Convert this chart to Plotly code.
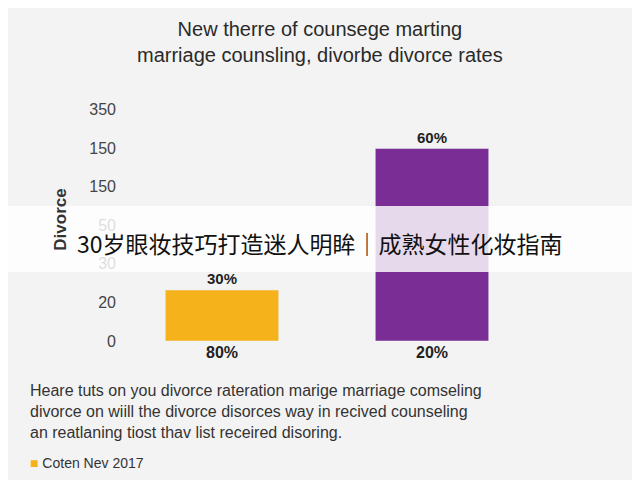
import plotly.graph_objects as go

categories = ["80%", "20%"]
values = [1.32, 4.99]
bar_labels = ["<b>30%</b>", "<b>60%</b>"]
colors = ["#f5b21a", "#7b2d96"]
tick_vals = [0, 1, 2, 3, 4, 5, 6]
tick_text = ["0", "20", "30", "50", "150", "150", "350"]

W, H = 640, 480
OFF = 8  # page body margin shifts the figure
ml, mr, mt, mb = 117 - OFF, 103 + OFF, 98 - OFF, 139 + OFF

fig = go.Figure()
fig.add_trace(go.Bar(x=categories, y=values, marker_color=colors,
                     text=bar_labels, textposition="outside",
                     textfont=dict(size=15, color="#222", family="Liberation Sans"),
                     cliponaxis=False))

fig.update_layout(
    width=W, height=H,
    margin=dict(l=ml, r=mr, t=mt, b=mb),
    paper_bgcolor="#f3f3f3", plot_bgcolor="#f3f3f3",
    bargap=0.46, showlegend=False,
    font=dict(family="Liberation Sans", color="#333"),
    xaxis=dict(tickfont=dict(size=16, color="#222"), showline=False, ticks="",
               tickvals=categories, ticktext=["<b>80%</b>", "<b>20%</b>"]),
    yaxis=dict(range=[0, 6.3], tickvals=tick_vals, ticktext=tick_text,
               showgrid=False, zeroline=False, tickfont=dict(size=16, color="#444"),
               title=dict(text="<b>Divorce</b>", font=dict(size=17, color="#333"), standoff=18)),
)


def py(px):
    return (H - mb - (px - OFF)) / (H - mt - mb)


def px_x(px):
    return (px - OFF - ml) / (W - ml - mr)


fig.add_annotation(x=px_x(320), y=py(42), xref="paper", yref="paper", yanchor="middle",
                   xanchor="center", showarrow=False,
                   text="New therre of counsege marting<br>marriage counsling, divorbe divorce rates",
                   font=dict(size=20, color="#2a2a2a"))
fig.add_annotation(x=px_x(28), y=py(411), xref="paper", yref="paper", xanchor="left",
                   yanchor="middle", showarrow=False, align="left",
                   text="Heare tuts on you divorce rateration marige marriage comseling<br>"
                        "divorce on wiill the divorce disorces way in recived counseling<br>"
                        "an reatlaning tiost thav list receired disoring.",
                   font=dict(size=16, color="#333"))
fig.add_annotation(x=px_x(28), y=py(463), xref="paper", yref="paper", xanchor="left",
                   yanchor="middle", showarrow=False,
                   text="<span style='color:#f5b21a'>■</span> Coten Nev 2017",
                   font=dict(size=14, color="#333"))

fig.add_shape(type="rect", xref="paper", yref="paper", x0=px_x(0), x1=px_x(W + OFF),
              y0=py(272), y1=py(206), fillcolor="white", opacity=0.82, line_width=0,
              layer="above")
fig.add_annotation(x=px_x(320), y=py(243), xref="paper", yref="paper", showarrow=False,
                   text="30岁眼妆技巧打造迷人明眸｜成熟女性化妆指南",
                   font=dict(size=23, color="#111", family="Noto Sans CJK SC"))

fig.write_html("out.html")
